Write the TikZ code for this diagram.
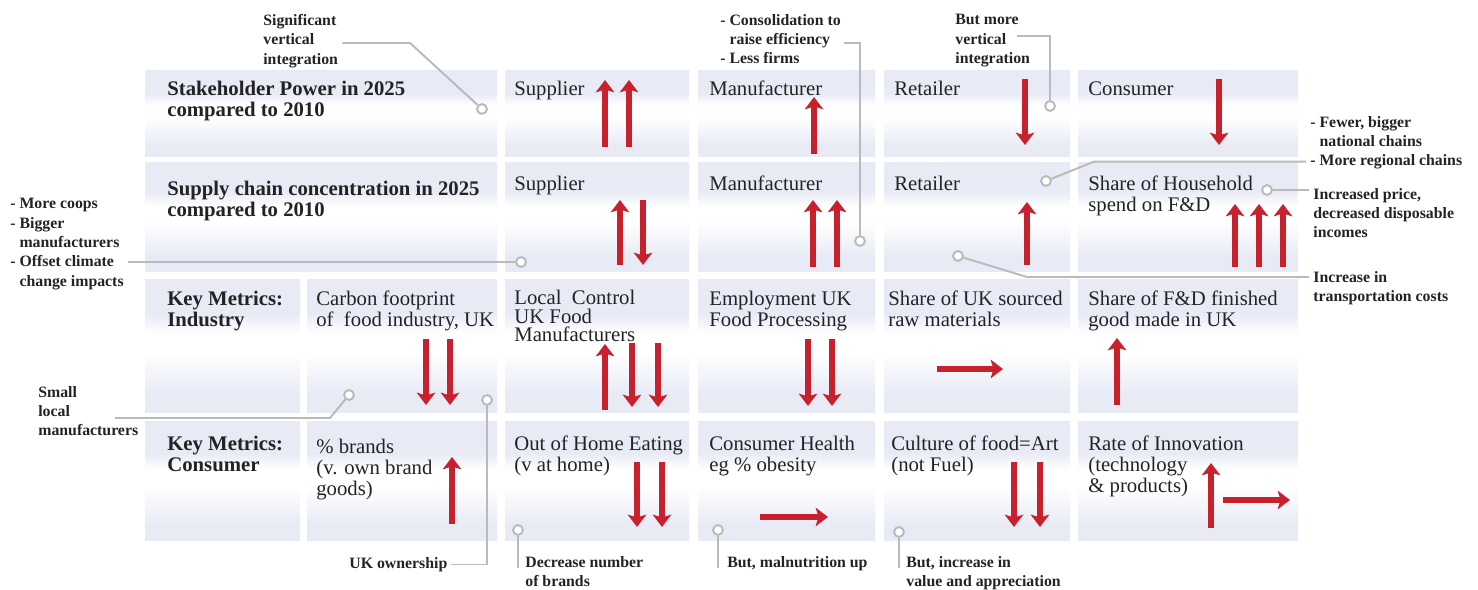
\documentclass[tikz,border=0pt]{standalone}
\usepackage{fontspec}
\setmainfont{Liberation Serif}
\usepackage{tikz}
\usetikzlibrary{arrows.meta,calc}

\definecolor{cellblue}{RGB}{232,235,246}
\definecolor{trendred}{RGB}{198,33,45}
\definecolor{leadgray}{RGB}{186,186,186}
\definecolor{inkgray}{RGB}{35,35,35}

\pgfdeclareverticalshading{cellfade}{100bp}{color(0bp)=(cellblue); color(32bp)=(cellblue); color(48bp)=(white); color(55bp)=(white); color(62bp)=(cellblue); color(100bp)=(cellblue)}

\begin{document}
\begin{tikzpicture}[x=0.02cm,y=-0.02cm]
			\tikzstyle{every node}+=[inner sep=0pt]
			\tikzstyle{cell}=[shading=cellfade]
			\tikzstyle{head}=[anchor=north west,align=left,text=inkgray,font=\bfseries\fontsize{11.8}{11.9}\selectfont]
			\tikzstyle{celltext}=[anchor=north west,align=left,text=inkgray,font=\fontsize{11.8}{11.9}\selectfont]
			\tikzstyle{note}=[anchor=north west,align=left,text=inkgray,font=\bfseries\fontsize{9}{11}\selectfont]
			\tikzstyle{trend}=[draw=trendred,line width=3.3pt,-{Stealth[width=10.5pt,length=7pt,inset=1.6pt]}]
			\tikzstyle{lead}=[draw=leadgray,line width=1.1pt]
			\tikzstyle{leaddot}=[circle,draw=leadgray,fill=white,line width=1.1pt,minimum size=5.6pt]
			\fill [white] (0,0) rectangle (1478,590);
			\useasboundingbox (0,0) rectangle (1478,590);
			% cells, row 1 and 2
			\shade [cell] (145,71) rectangle (497,157);
			\shade [cell] (505,71) rectangle (689,157);
			\shade [cell] (698,71) rectangle (875,157);
			\shade [cell] (884,71) rectangle (1070,157);
			\shade [cell] (1078,71) rectangle (1298,157);
			\shade [cell] (145,163) rectangle (497,272);
			\shade [cell] (505,163) rectangle (689,272);
			\shade [cell] (698,163) rectangle (875,272);
			\shade [cell] (884,163) rectangle (1070,272);
			\shade [cell] (1078,163) rectangle (1298,272);
			% cells, row 3 and 4
			\shade [cell] (145,280) rectangle (300,413);
			\shade [cell] (307,280) rectangle (497,413);
			\shade [cell] (505,280) rectangle (689,413);
			\shade [cell] (698,280) rectangle (875,413);
			\shade [cell] (884,280) rectangle (1070,413);
			\shade [cell] (1078,280) rectangle (1298,413);
			\shade [cell] (145,422) rectangle (300,541);
			\shade [cell] (307,422) rectangle (497,541);
			\shade [cell] (505,422) rectangle (689,541);
			\shade [cell] (698,422) rectangle (875,541);
			\shade [cell] (884,422) rectangle (1070,541);
			\shade [cell] (1078,422) rectangle (1298,541);
			% cell texts
			\node [head] (power) at (167,81) {Stakeholder Power in 2025\\compared to 2010};
			\node [celltext] (powsup) at (514,81) {Supplier};
			\node [celltext] (powman) at (709,81) {Manufacturer};
			\node [celltext] (powret) at (894,81) {Retailer};
			\node [celltext] (powcon) at (1088,81) {Consumer};
			\node [head] (conc) at (167,181) {Supply chain concentration in 2025\\compared to 2010};
			\node [celltext] (concsup) at (514,176) {Supplier};
			\node [celltext] (concman) at (709,176) {Manufacturer};
			\node [celltext] (concret) at (894,176) {Retailer};
			\node [celltext] (concspend) at (1088,176) {Share of Household\\spend on F\&D};
			\node [head] (industry) at (167,291) {Key Metrics:\\Industry};
			\node [celltext] (carbon) at (316,291) {Carbon footprint\\of\ \ food industry, UK};
			\node [celltext, font=\fontsize{11.8}{10.6}\selectfont] (local) at (514,290) {Local\ \ Control\\UK Food\\Manufacturers};
			\node [celltext] (employ) at (709,291) {Employment UK\\Food Processing};
			\node [celltext] (sourced) at (888,291) {Share of UK sourced\\raw materials};
			\node [celltext] (madeuk) at (1088,291) {Share of F\&D finished\\good made in UK};
			\node [head] (consumer) at (167,436) {Key Metrics:\\Consumer};
			\node [celltext] (brands) at (316,439) {\% brands\\(v. own brand\\goods)};
			\node [celltext] (outhome) at (514,436) {Out of Home Eating\\(v at home)};
			\node [celltext] (health) at (709,436) {Consumer Health\\eg \% obesity};
			\node [celltext] (culture) at (891,436) {Culture of food=Art\\(not Fuel)};
			\node [celltext] (innov) at (1088,436) {Rate of Innovation\\(technology\\\& products)};
			% trend arrows
			\draw [trend] (605,147) -- (605,80);
			\draw [trend] (629,147) -- (629,80);
			\draw [trend] (814,154) -- (814,97);
			\draw [trend] (1025,79) -- (1025,145);
			\draw [trend] (1219,79) -- (1219,145);
			\draw [trend] (620,265) -- (620,200);
			\draw [trend] (643,200) -- (643,265);
			\draw [trend] (813,267) -- (813,200);
			\draw [trend] (837,267) -- (837,200);
			\draw [trend] (1027,265) -- (1027,202);
			\draw [trend] (1235,267) -- (1235,204);
			\draw [trend] (1259,267) -- (1259,204);
			\draw [trend] (1283,267) -- (1283,204);
			\draw [trend] (426,339) -- (426,405);
			\draw [trend] (450,339) -- (450,405);
			\draw [trend] (605,410) -- (605,344);
			\draw [trend] (632,343) -- (632,407);
			\draw [trend] (658,343) -- (658,407);
			\draw [trend] (808,339) -- (808,406);
			\draw [trend] (832,339) -- (832,406);
			\draw [trend] (937,369) -- (1003,369);
			\draw [trend] (1117,405) -- (1117,338);
			\draw [trend] (452,524) -- (452,457);
			\draw [trend] (637,462) -- (637,527);
			\draw [trend] (662,462) -- (662,527);
			\draw [trend] (760,517) -- (828,517);
			\draw [trend] (1014,462) -- (1014,527);
			\draw [trend] (1040,462) -- (1040,527);
			\draw [trend] (1211,528) -- (1211,463);
			\draw [trend] (1223,500) -- (1290,500);
			% callout notes
			\node [note] (vert) at (263,14) {Significant\\vertical\\integration};
			\node [note] (consol) at (720,14) {- Consolidation to\\\phantom{- }raise efficiency\\- Less firms};
			\node [note] (butvert) at (955,14) {But more\\vertical\\integration};
			\node [note] (fewer) at (1310,116) {- Fewer, bigger\\\phantom{- }national chains};
			\node [note] (regional) at (1310,154) {- More regional chains};
			\node [note] (price) at (1313,188) {Increased price,\\decreased disposable\\incomes};
			\node [note] (transport) at (1313,271) {Increase in\\transportation costs};
			\node [note] (coops) at (10,198) {- More coops\\- Bigger\\\phantom{- }manufacturers\\- Offset climate\\\phantom{- }change impacts};
			\node [note] (small) at (38,386) {Small\\local\\manufacturers};
			\node [note] (ukown) at (349,557) {UK ownership};
			\node [note] (fewbrands) at (525,556) {Decrease number\\of brands};
			\node [note] (malnut) at (727,556) {But, malnutrition up};
			\node [note] (apprec) at (906,556) {But, increase in\\value and appreciation};
			% callout dots
			\node [leaddot] (vertdot) at (482,109) {};
			\node [leaddot] (consoldot) at (860,241) {};
			\node [leaddot] (butvertdot) at (1050,106) {};
			\node [leaddot] (regionaldot) at (1046,181) {};
			\node [leaddot] (pricedot) at (1267,190) {};
			\node [leaddot] (transportdot) at (958,256) {};
			\node [leaddot] (coopsdot) at (521,262) {};
			\node [leaddot] (smalldot) at (349,395) {};
			\node [leaddot] (ukowndot) at (487,400) {};
			\node [leaddot] (fewbrandsdot) at (518,530) {};
			\node [leaddot] (malnutdot) at (718,530) {};
			\node [leaddot] (apprecdot) at (899,532) {};
			% callout lines
			\coordinate (butvertend) at (1017,36);
			\coordinate (smallend) at (115,418);
			\coordinate (transportend) at ($(transport.north west)+(-4,6)$);
			\draw [lead] ($(vert.east |- 0,43)+(4,0)$) -- (410,43) -- (vertdot);
			\draw [lead] ($(consol.east |- 0,43)+(3,0)$) -- (860,43) -- (consoldot);
			\draw [lead] (butvertend) -- (1050,36) -- (butvertdot);
			\draw [lead] ($(regional.west)+(-4,0)$) -- (regional.west -| 1094,0) -- (regionaldot);
			\draw [lead] (pricedot) -- ($(pricedot -| price.west)+(-4,0)$);
			\draw [lead] (transportend) -- (transportend -| 1027,0) -- (transportdot);
			\draw [lead] (coopsdot) -- ($(coopsdot -| coops.east)+(4,0)$);
			\draw [lead] (smallend) -- (330,418) -- (smalldot);
			\draw [lead] ($(ukown.east)+(3,0)$) -- (ukown.east -| ukowndot) -- (ukowndot);
			\draw [lead] (fewbrandsdot) -- ($(fewbrandsdot |- fewbrands.north)+(0,12)$);
			\draw [lead] (malnutdot) -- ($(malnutdot |- malnut.north)+(0,12)$);
			\draw [lead] (apprecdot) -- ($(apprecdot |- apprec.north)+(0,12)$);
\end{tikzpicture}
\end{document}
